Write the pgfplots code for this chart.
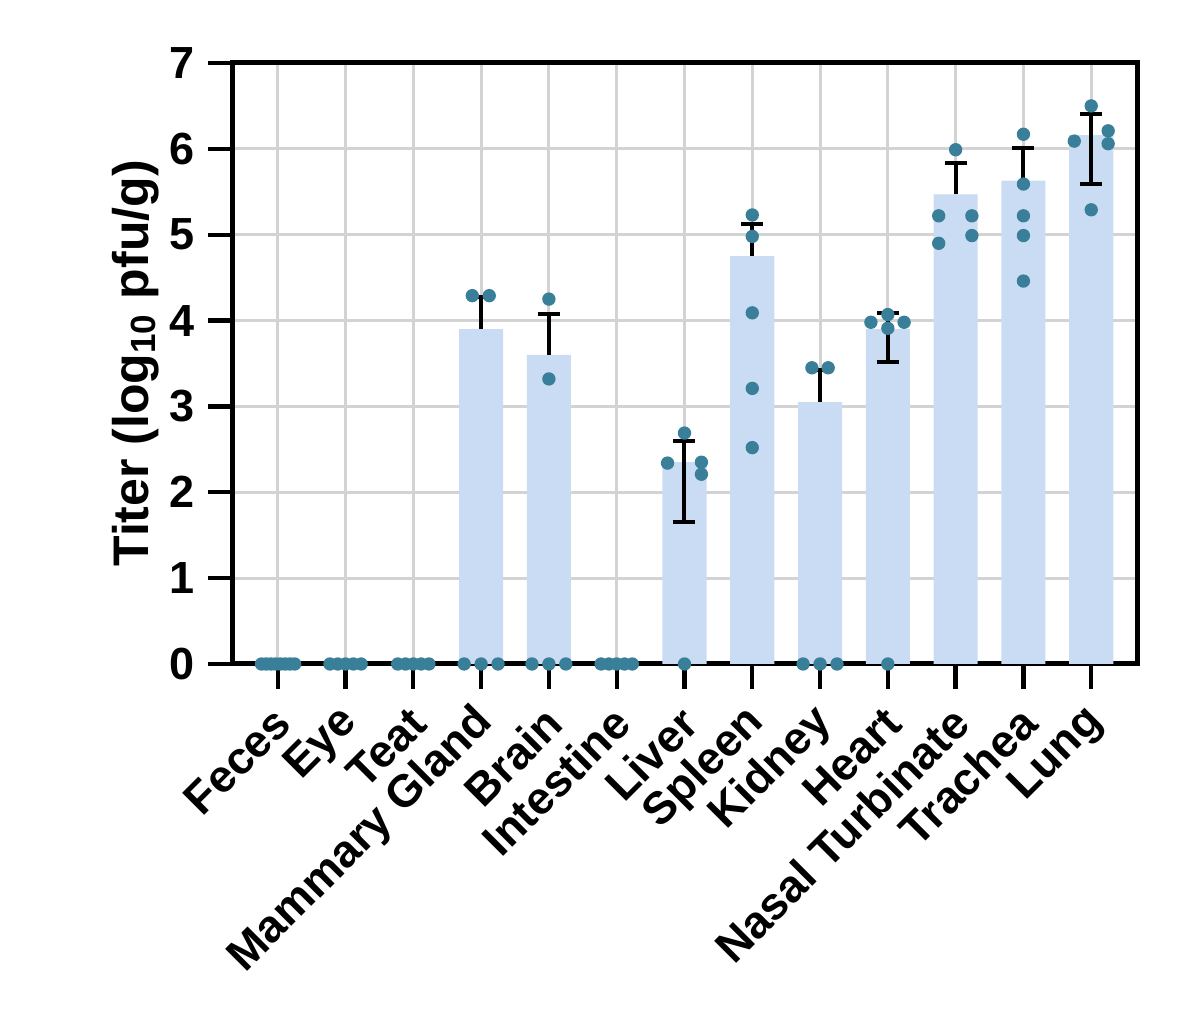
\documentclass[border=0pt]{standalone}
\usepackage{pgfplots}
\usepackage{pgfplotstable}
\pgfplotsset{compat=1.18}
\usepackage{fontspec}
\setmainfont{Liberation Sans}
\definecolor{barblue}{HTML}{C9DCF3}
\definecolor{dotblue}{HTML}{3A7F99}
\definecolor{gridgray}{HTML}{D3D3D3}
\pgfplotsset{layers/mylayers/.define layer set={axis background,axis grid,main,axis ticks,axis lines,axis tick labels,axis descriptions,axis foreground}{}}

\pgfplotstableread{
x y
-0.24 0
-0.17 0
-0.10 0
-0.03 0
0.04 0
0.11 0
0.18 0
0.25 0
0.77 0
0.885 0
1.0 0
1.115 0
1.23 0
1.77 0
1.885 0
2.0 0
2.115 0
2.23 0
2.75 0
3.0 0
3.25 0
2.87 4.29
3.12 4.29
3.75 0
4.0 0
4.25 0
4.0 4.25
4.0 3.32
4.77 0
4.885 0
5.0 0
5.115 0
5.23 0
6.0 0
6.0 2.69
5.75 2.34
6.25 2.35
6.25 2.21
7.0 5.23
7.0 4.98
7.0 4.09
7.0 3.21
7.0 2.52
7.75 0
8.0 0
8.25 0
7.88 3.45
8.12 3.45
9.0 0
9.0 4.07
8.75 3.98
9.24 3.98
9.0 3.91
10.0 5.99
9.75 5.22
9.75 4.90
10.24 5.22
10.24 4.99
11.0 6.17
11.0 5.59
11.0 5.22
11.0 4.99
11.0 4.46
12.0 6.50
12.0 5.29
11.75 6.09
12.25 6.21
12.25 6.06
}\dotdata

\begin{document}
\begin{tikzpicture}
\begin{axis}[
  set layers=mylayers,
  at={(0,0)}, anchor=south west,
  scale only axis, width=271.5pt, height=180.3pt,
  xmin=-0.66, xmax=12.69, ymin=0, ymax=7,
  xtick={0,...,12},
  xticklabels={Feces,Eye,Teat,Mammary Gland,Brain,Intestine,Liver,Spleen,Kidney,Heart,Nasal Turbinate,Trachea,Lung},
  ytick={0,...,7},
  grid=major,
  major grid style={gridgray, line width=0.9pt},
  axis line style={black, line width=1.5pt},
  tick align=outside, major tick length=7.5pt,
  tick style={black, line width=1.3pt},
  xtick pos=bottom, ytick pos=left,
  /pgf/number format/assume math mode=true,
  yticklabel style={font=\fontsize{13.5}{13.5}\selectfont\bfseries, xshift=-0.5pt},
  xticklabel style={xshift=4pt, yshift=-5.5pt, rotate=45, anchor=east, font=\fontsize{13.6}{13.6}\selectfont\bfseries},
  ylabel={Titer (log\textsubscript{10} pfu/g)},
  ylabel style={at={(axis description cs:-0.108,0.5)}, anchor=center, font=\fontsize{15}{15}\selectfont\bfseries},
]
\addplot[ybar, bar width=0.65, fill=barblue, draw=none] coordinates {
  (3,3.90) (4,3.60) (6,2.35) (7,4.75) (8,3.05) (9,3.90) (10,5.47) (11,5.63) (12,6.16)};
\addplot[draw=none, mark=none, forget plot,
  error bars/.cd, y dir=plus, y explicit, error mark=-,
  error bar style={draw=black, line width=1.2pt},
  error mark options={rotate=90, draw=black, line width=1.2pt, mark size=3.3pt}] coordinates {
  (3,3.90) +- (0,0.37)
  (4,3.60) +- (0,0.48)
  (6,2.35) +- (0,0.25)
  (7,4.75) +- (0,0.37)
  (8,3.05) +- (0,0.37)
  (9,3.90) +- (0,0.19)
  (10,5.47) +- (0,0.36)
  (11,5.63) +- (0,0.38)
  (12,6.16) +- (0,0.25)};
\addplot[draw=none, mark=none, forget plot,
  error bars/.cd, y dir=minus, y explicit, error mark=-,
  error bar style={draw=black, line width=1.2pt},
  error mark options={rotate=90, draw=black, line width=1.2pt, mark size=3.3pt}] coordinates {
  (6,2.35) +- (0,0.70)
  (9,3.90) +- (0,0.38)
  (12,6.16) +- (0,0.57)};
\addplot[on layer=axis foreground, only marks, mark=*, mark size=1.8pt, color=dotblue, mark options={draw=dotblue, fill=dotblue}] table[x=x, y=y] {\dotdata};
\end{axis}
\pgfresetboundingbox
\path[use as bounding box] (-69.9pt,-105.3pt) rectangle (290.1pt,199.2pt);
\end{tikzpicture}
\end{document}
